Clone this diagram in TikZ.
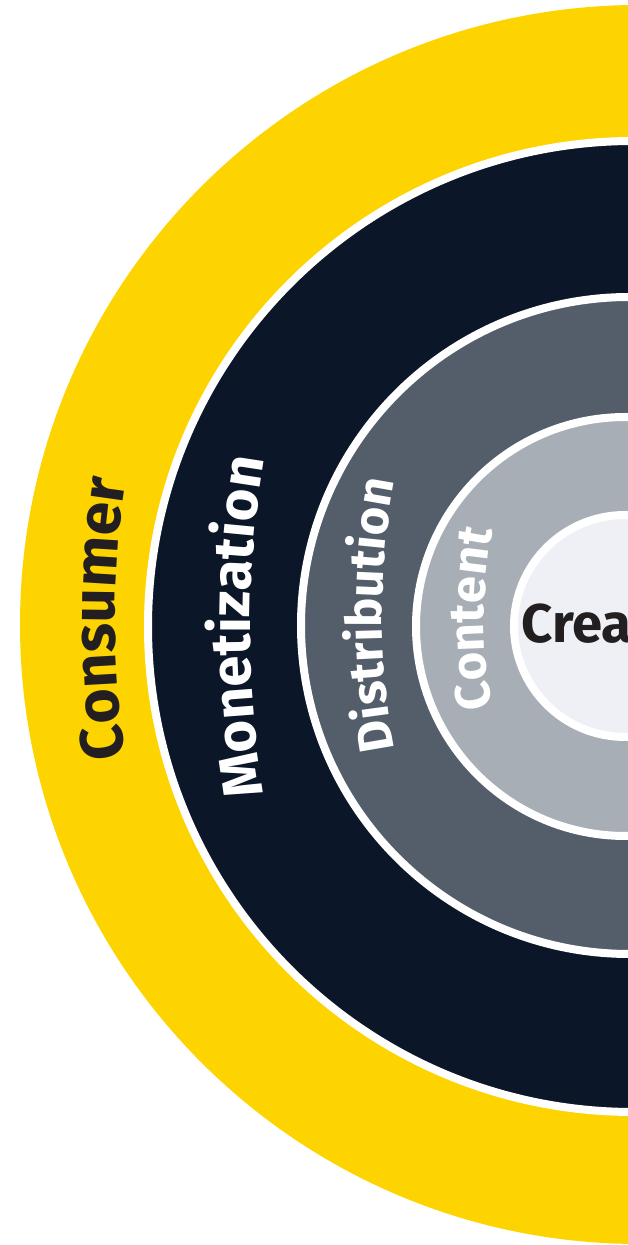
\documentclass[tikz,border=0pt]{standalone}
\usepackage{fontspec}
\setmainfont{Fira Sans}
\usetikzlibrary{calc, decorations.text}
\definecolor{consY}{HTML}{FDD300}
\definecolor{monN}{HTML}{0B1628}
\definecolor{distG}{HTML}{545E6B}
\definecolor{contG}{HTML}{A7AEB5}
\definecolor{creaW}{HTML}{EFF0F5}
\definecolor{txtD}{HTML}{231F20}
\newcommand{\lblbig}{\fontsize{34.5}{37}\selectfont\bfseries}
\newcommand{\lblmid}{\fontsize{32}{35}\selectfont\bfseries}
\newcommand{\lblsmall}{\fontsize{28}{31}\selectfont\bfseries}
\tikzset{
  disk/.style  ={draw=white, line width=0.16cm},
  arclbl/.style={decorate, decoration={text along path, text align=center, #1}}
}
\begin{document}
\begin{tikzpicture}[x=0.02cm, y=0.02cm]
\useasboundingbox (0,0) rectangle (628,1245);
\clip (0,0) rectangle (628,1245);
% Ring centres
\coordinate (cCons) at (639.5,620.5);
\coordinate (cMon)  at (633.5,618.5);
\coordinate (cDist) at (629.5,619.5);
\coordinate (cCont) at (625.5,618.5);
\coordinate (cCrea) at (625,619);

% Rings, outer to inner
\fill[consY] (cCons) circle[radius=619.5];
\path[disk, fill=monN]  (cMon)  circle[radius=485.5];
\path[disk, fill=distG] (cDist) circle[radius=328.5];
\path[disk, fill=contG] (cCont) circle[radius=209.5];
\path[disk, fill=creaW] (cCrea) circle[radius=111];

% Label arcs (flatter than the rings)
\coordinate (aCons) at (1015,626);
\coordinate (aMon)  at (1250,618);
\coordinate (aDist) at (1082,630);
\coordinate (aCont) at (934,626);

\path[arclbl={text={|\lblbig|Consumer}, text color=txtD}]
  ($(aCons)+(194:900)$) arc[start angle=194, end angle=166, radius=900];
\path[arclbl={text={|\lblmid|Monetization}, text color=white}]
  ($(aMon)+(194:1000)$) arc[start angle=194, end angle=166, radius=1000];
\path[arclbl={text={|\lblsmall|Distribution}, text color=white}]
  ($(aDist)+(196:700)$) arc[start angle=196, end angle=164, radius=700];
\path[arclbl={text={|\lblsmall|Content}, text color=white}]
  ($(aCont)+(200:450)$) arc[start angle=200, end angle=160, radius=450];

\node[anchor=base west, inner sep=0pt, text=txtD,
      font=\fontsize{31}{34}\selectfont\bfseries] (crea) at (521,602) {Creator};
\end{tikzpicture}
\end{document}
